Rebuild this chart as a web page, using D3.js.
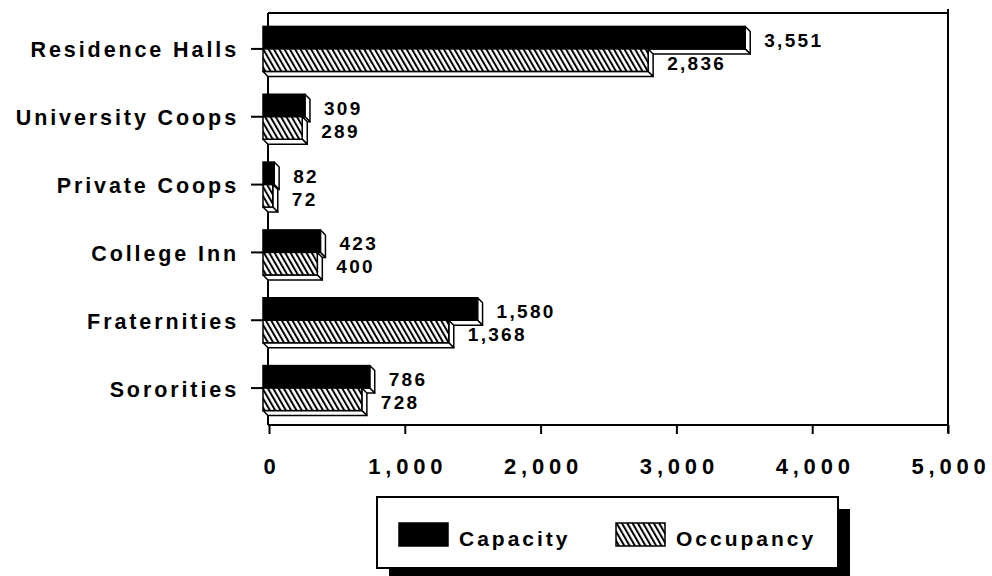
<!DOCTYPE html>
<html>
<head>
<meta charset="utf-8">
<script src="https://cdn.jsdelivr.net/npm/d3@7"></script>
<style>
  html, body { margin: 0; padding: 0; background: #fff; }
  svg { display: block; }
  text { font-family: "Liberation Sans", Arial, Helvetica, sans-serif; font-weight: bold; fill: #000; }
</style>
</head>
<body>
<svg id="chart" width="992" height="576"></svg>
<script>
const categories = ["Residence Halls", "University Coops", "Private Coops", "College Inn", "Fraternities", "Sororities"];
const capacity = [3551, 309, 82, 423, 1580, 786];
const occupancy = [2836, 289, 72, 400, 1368, 728];
const seriesNames = ["Capacity", "Occupancy"];
const xTickValues = [0, 1000, 2000, 3000, 4000, 5000];

const svg = d3.select("#chart");
const plot = { left: 268, right: 948, top: 13, bottom: 425 };

const x = d3.scaleLinear().domain([0, 5000]).range([plot.left + 1, plot.right]);
const y = d3.scaleBand().domain(categories).range([15, 422]);

// hatch pattern
const defs = svg.append("defs");
const pat = defs.append("pattern")
  .attr("id", "hatch")
  .attr("patternUnits", "userSpaceOnUse")
  .attr("width", 4.6).attr("height", 10)
  .attr("patternTransform", "rotate(-30)");
pat.append("rect").attr("width", 4.6).attr("height", 10).attr("fill", "#fff");
pat.append("line").attr("x1", 1).attr("y1", -1).attr("x2", 1).attr("y2", 11)
  .attr("stroke", "#000").attr("stroke-width", 2);

const fills = ["#000", "url(#hatch)"];

// frame: top and right
svg.append("line").attr("x1", plot.left).attr("x2", plot.right).attr("y1", plot.top).attr("y2", plot.top)
  .attr("stroke", "#000").attr("stroke-width", 2);
svg.append("line").attr("x1", plot.right).attr("x2", plot.right).attr("y1", plot.top - 4).attr("y2", plot.bottom + 8)
  .attr("stroke", "#000").attr("stroke-width", 2);

// x axis
const xAxis = d3.axisBottom(x).tickValues(xTickValues).tickFormat(d3.format(",")).tickSize(9).tickSizeOuter(0);
const gx = svg.append("g").attr("transform", `translate(0,${plot.bottom})`).call(xAxis);
gx.select(".domain").attr("stroke", "#000").attr("stroke-width", 2)
  .attr("d", `M${plot.left},0H${plot.right}`);
gx.selectAll(".tick line").attr("stroke", "#000").attr("stroke-width", 2);
gx.selectAll(".tick text")
  .attr("y", 49).attr("dy", 0).attr("dx", 2.5)
  .style("font-size", "22px").style("letter-spacing", "4.8px")
  .style("font-family", "'Liberation Sans', Arial, sans-serif").style("font-weight", "bold");

// y axis
const yAxis = d3.axisLeft(y).tickSize(17).tickSizeOuter(0).tickPadding(11);
const gy = svg.append("g").attr("transform", `translate(${plot.left},0)`).call(yAxis);
gy.select(".domain").attr("stroke", "#000").attr("stroke-width", 2)
  .attr("d", `M0,${plot.top}V${plot.bottom}`);
gy.selectAll(".tick line").attr("stroke", "#000").attr("stroke-width", 2);
gy.selectAll(".tick text")
  .attr("dy", 8.5).attr("x", -29)
  .style("font-size", "21.5px").style("letter-spacing", "2.9px")
  .style("font-family", "'Liberation Sans', Arial, sans-serif").style("font-weight", "bold");

// 3D bars
const d = 5;      // depth
const off = 6;    // front-face shift to the left of the back plane
const barH = 22.5;
const rows = categories.map((c, i) => ({ cat: c, vals: [capacity[i], occupancy[i]] }));

const gBars = svg.append("g");
rows.forEach(r => {
  const c = y(r.cat) + y.bandwidth() / 2;
  r.vals.forEach((v, s) => {
    const x0 = x(0) - off, x1 = x(v) - off;
    const y0 = s === 0 ? c - barH : c;
    const y1 = y0 + barH;
    const g = gBars.append("g");
    g.append("path")
      .attr("d", `M${x1},${y0}L${x1 + d},${y0 + d}L${x1 + d},${y1 + d}L${x1},${y1}Z`)
      .attr("fill", "#fff").attr("stroke", "#000").attr("stroke-width", 1.5).attr("stroke-linejoin", "round");
    g.append("path")
      .attr("d", `M${x0},${y1}L${x1},${y1}L${x1 + d},${y1 + d}L${x0 + d},${y1 + d}Z`)
      .attr("fill", "#fff").attr("stroke", "#000").attr("stroke-width", 1.5).attr("stroke-linejoin", "round");
    g.append("rect")
      .attr("x", x0).attr("y", y0).attr("width", x1 - x0).attr("height", barH)
      .attr("fill", fills[s]).attr("stroke", "#000").attr("stroke-width", 1.5);
  });
});

// value labels
const fmt = d3.format(",");
rows.forEach(r => {
  const c = y(r.cat) + y.bandwidth() / 2;
  r.vals.forEach((v, s) => {
    svg.append("text")
      .attr("x", x(v) + 13)
      .attr("y", s === 0 ? c - 2 : c + 21)
      .style("font-size", "19px").style("letter-spacing", "2.3px")
      .text(fmt(v));
  });
});

// legend
const lg = svg.append("g");
lg.append("rect").attr("x", 389).attr("y", 509).attr("width", 461).attr("height", 71).attr("fill", "#000");
lg.append("rect").attr("x", 377).attr("y", 497).attr("width", 461).attr("height", 71)
  .attr("fill", "#fff").attr("stroke", "#000").attr("stroke-width", 2);
const legendX = [399, 616];
const legendTextX = [459, 676];
seriesNames.forEach((n, i) => {
  lg.append("rect").attr("x", legendX[i]).attr("y", 523).attr("width", 49).attr("height", 23)
    .attr("fill", fills[i]).attr("stroke", "#000").attr("stroke-width", 1.5);
  lg.append("text").attr("x", legendTextX[i]).attr("y", 546)
    .style("font-size", "21px").style("letter-spacing", "3px").text(n);
});
</script>
</body>
</html>
